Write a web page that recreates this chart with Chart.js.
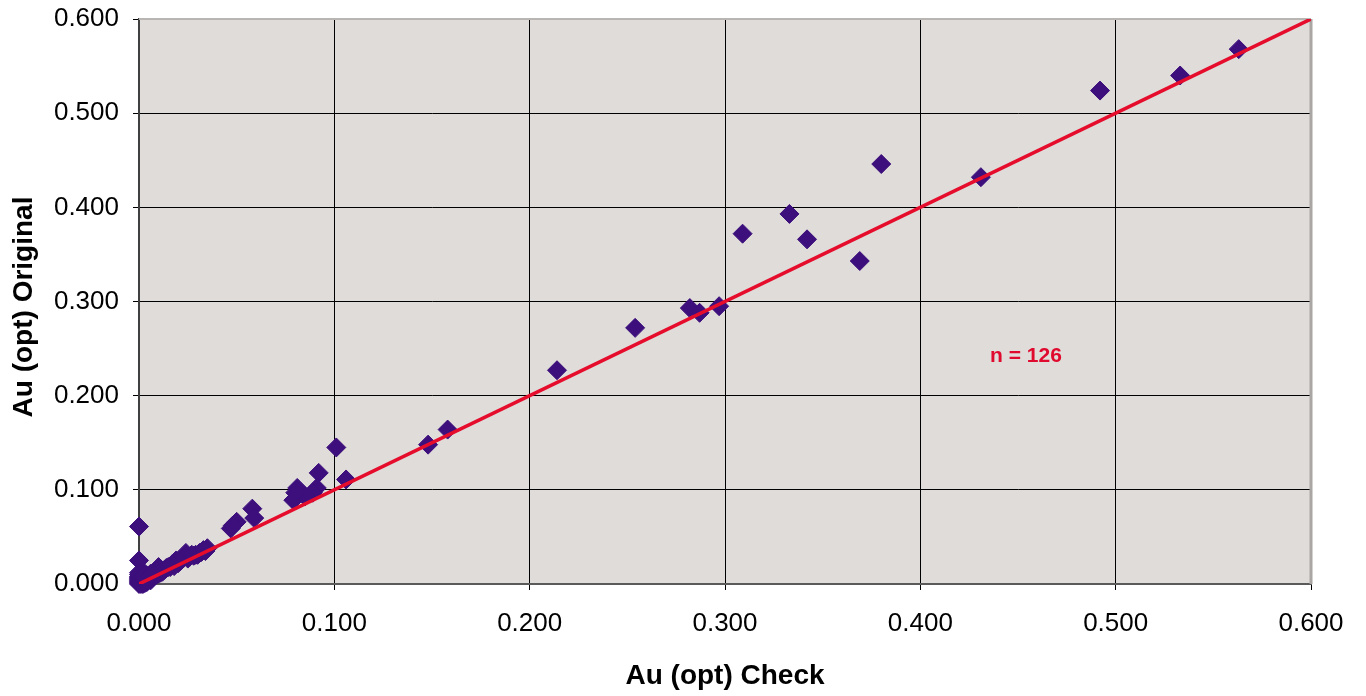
<!DOCTYPE html>
<html>
<head>
<meta charset="utf-8">
<script src="https://cdn.jsdelivr.net/npm/chart.js@4.4.1/dist/chart.umd.min.js"></script>
<style>
  html, body { margin: 0; padding: 0; background: #ffffff; }
  #wrap { width: 1366px; height: 696px; position: relative; }
</style>
</head>
<body>
<div id="wrap"><canvas id="chart"></canvas></div>
<script>
// Au (opt) Check vs Au (opt) Original, one pair per sample
const checkValues = [
  0.563, 0.533, 0.492, 0.431, 0.380, 0.333, 0.309, 0.342, 0.369, 0.282,
  0.287, 0.297, 0.254, 0.214, 0.158, 0.148, 0.101, 0.106, 0.092, 0.091,
  0.089, 0.081, 0.079, 0.085, 0.058, 0.059, 0.050, 0.047, 0.000, 0.000,
  0.048, 0.080, 0.035, 0.034, 0.031, 0.029, 0.024, 0.026, 0.022, 0.019,
  0.020, 0.017, 0.016, 0.014, 0.013, 0.011, 0.010, 0.012, 0.009, 0.008,
  0.007, 0.025, 0.023, 0.028, 0.032, 0.021, 0.018, 0.015, 0.030, 0.027,
  0.033, 0.011, 0.000, 0.001, 0.002, 0.000, 0.001, 0.003, 0.002, 0.000,
  0.001, 0.004, 0.003, 0.005, 0.002, 0.000, 0.001, 0.004, 0.006, 0.005,
  0.003, 0.007, 0.006, 0.008, 0.000, 0.002, 0.001, 0.003, 0.005, 0.004,
  0.007, 0.009, 0.010, 0.008, 0.000, 0.002, 0.006, 0.001, 0.003, 0.004,
  0.000, 0.002, 0.001, 0.000, 0.001, 0.002, 0.003, 0.000, 0.001, 0.002,
  0.003, 0.004, 0.005, 0.000, 0.001, 0.002, 0.003, 0.004, 0.005, 0.006,
  0.000, 0.001, 0.002, 0.003, 0.004, 0.006
];
const originalValues = [
  0.568, 0.540, 0.524, 0.432, 0.446, 0.393, 0.372, 0.366, 0.343, 0.293,
  0.288, 0.295, 0.272, 0.227, 0.164, 0.148, 0.145, 0.111, 0.118, 0.102,
  0.097, 0.102, 0.089, 0.093, 0.080, 0.070, 0.066, 0.059, 0.061, 0.025,
  0.062, 0.097, 0.038, 0.035, 0.033, 0.031, 0.033, 0.029, 0.026, 0.025,
  0.022, 0.021, 0.018, 0.017, 0.015, 0.016, 0.018, 0.013, 0.014, 0.012,
  0.011, 0.027, 0.028, 0.030, 0.034, 0.024, 0.019, 0.018, 0.031, 0.031,
  0.036, 0.012, 0.000, 0.002, 0.001, 0.004, 0.006, 0.003, 0.005, 0.008,
  0.010, 0.005, 0.007, 0.004, 0.009, 0.002, 0.001, 0.002, 0.006, 0.008,
  0.011, 0.009, 0.011, 0.010, 0.012, 0.000, 0.004, 0.001, 0.006, 0.009,
  0.007, 0.010, 0.011, 0.009, 0.006, 0.003, 0.004, 0.008, 0.005, 0.003,
  0.001, 0.007, 0.003, 0.003, 0.005, 0.002, 0.004, 0.005, 0.000, 0.004,
  0.002, 0.006, 0.005, 0.007, 0.007, 0.006, 0.006, 0.004, 0.007, 0.008,
  0.010, 0.009, 0.008, 0.009, 0.007, 0.009
];
// 1:1 reference line
const lineX = [0, 0.6];
const lineY = [0, 0.6];
const axisMin = 0;
const axisMax = 0.6;
const axisStep = 0.1;
const sampleCount = 'n = 126';

const points = checkValues.map((x, i) => ({ x: x, y: originalValues[i] }));
const linePoints = lineX.map((x, i) => ({ x: x, y: lineY[i] }));

const FONT = "'Liberation Sans', Arial, sans-serif";

// plot background + grey frame + titles
const plotFrame = {
  id: 'plotFrame',
  beforeDraw(chart) {
    const { ctx, chartArea: a } = chart;
    ctx.save();
    ctx.fillStyle = '#dfdcd9';
    ctx.fillRect(a.left, a.top, a.right - a.left, a.bottom - a.top);
    ctx.restore();
  },
  beforeDatasetsDraw(chart) {
    const { ctx, chartArea: a } = chart;
    ctx.save();
    ctx.strokeStyle = '#b8b5b2';
    ctx.lineWidth = 2;
    ctx.beginPath();
    ctx.moveTo(a.left, a.top);
    ctx.lineTo(a.right, a.top);
    ctx.stroke();
    ctx.strokeStyle = '#a9a6a3';
    ctx.lineWidth = 3;
    ctx.beginPath();
    ctx.moveTo(a.right, a.top);
    ctx.lineTo(a.right, a.bottom);
    ctx.stroke();
    ctx.restore();
  },
  afterDraw(chart) {
    const { ctx, chartArea: a } = chart;
    ctx.save();
    ctx.fillStyle = '#000000';
    ctx.font = 'bold 28px ' + FONT;
    ctx.textAlign = 'center';
    ctx.textBaseline = 'middle';
    ctx.fillText('Au (opt) Check', (a.left + a.right) / 2, 676);
    ctx.translate(24, 307);
    ctx.rotate(-Math.PI / 2);
    ctx.fillText('Au (opt) Original', 0, 0);
    ctx.restore();

    ctx.save();
    ctx.fillStyle = '#e00a2e';
    ctx.font = 'bold 21px ' + FONT;
    ctx.textAlign = 'center';
    ctx.textBaseline = 'middle';
    ctx.fillText(sampleCount, 1026, 356);
    ctx.restore();
  }
};

const gridColor = (c) => (c.tick && Math.abs(c.tick.value - axisMax) < 1e-9) ? 'rgba(0,0,0,0)' : '#000000';

new Chart(document.getElementById('chart'), {
  type: 'scatter',
  data: {
    datasets: [
      {
        label: '1:1',
        data: linePoints,
        showLine: true,
        borderColor: '#e60c2c',
        borderWidth: 3.5,
        pointRadius: 0,
        order: 0
      },
      {
        label: 'Au (opt)',
        data: points,
        pointStyle: 'rectRot',
        pointRadius: 9.5,
        pointBackgroundColor: '#3d0f7c',
        pointBorderColor: '#3d0f7c',
        pointBorderWidth: 1,
        clip: false,
        order: 1
      }
    ]
  },
  options: {
    responsive: true,
    maintainAspectRatio: false,
    animation: false,
    layout: { padding: { top: 19, right: 55, left: 0, bottom: 0 } },
    plugins: {
      legend: { display: false },
      tooltip: { enabled: false }
    },
    scales: {
      x: {
        type: 'linear',
        min: axisMin,
        max: axisMax,
        afterFit: (s) => { s.height = 112; s.paddingLeft = 0; s.paddingRight = 0; },
        ticks: {
          stepSize: axisStep,
          padding: 18,
          color: '#000000',
          font: { family: FONT, size: 26 },
          callback: (v) => v.toFixed(3)
        },
        grid: { color: gridColor, lineWidth: 1, tickLength: 6, tickColor: '#000000' },
        border: { color: '#5a5a5a', width: 2 }
      },
      y: {
        type: 'linear',
        min: axisMin,
        max: axisMax,
        afterFit: (s) => { s.width = 139; s.paddingTop = 0; s.paddingBottom = 0; },
        ticks: {
          stepSize: axisStep,
          padding: 14,
          color: '#000000',
          font: { family: FONT, size: 26 },
          callback: (v) => v.toFixed(3)
        },
        grid: { color: gridColor, lineWidth: 1, tickLength: 6, tickColor: '#000000' },
        border: { color: '#404040', width: 2 }
      }
    }
  },
  plugins: [plotFrame]
});
</script>
</body>
</html>
